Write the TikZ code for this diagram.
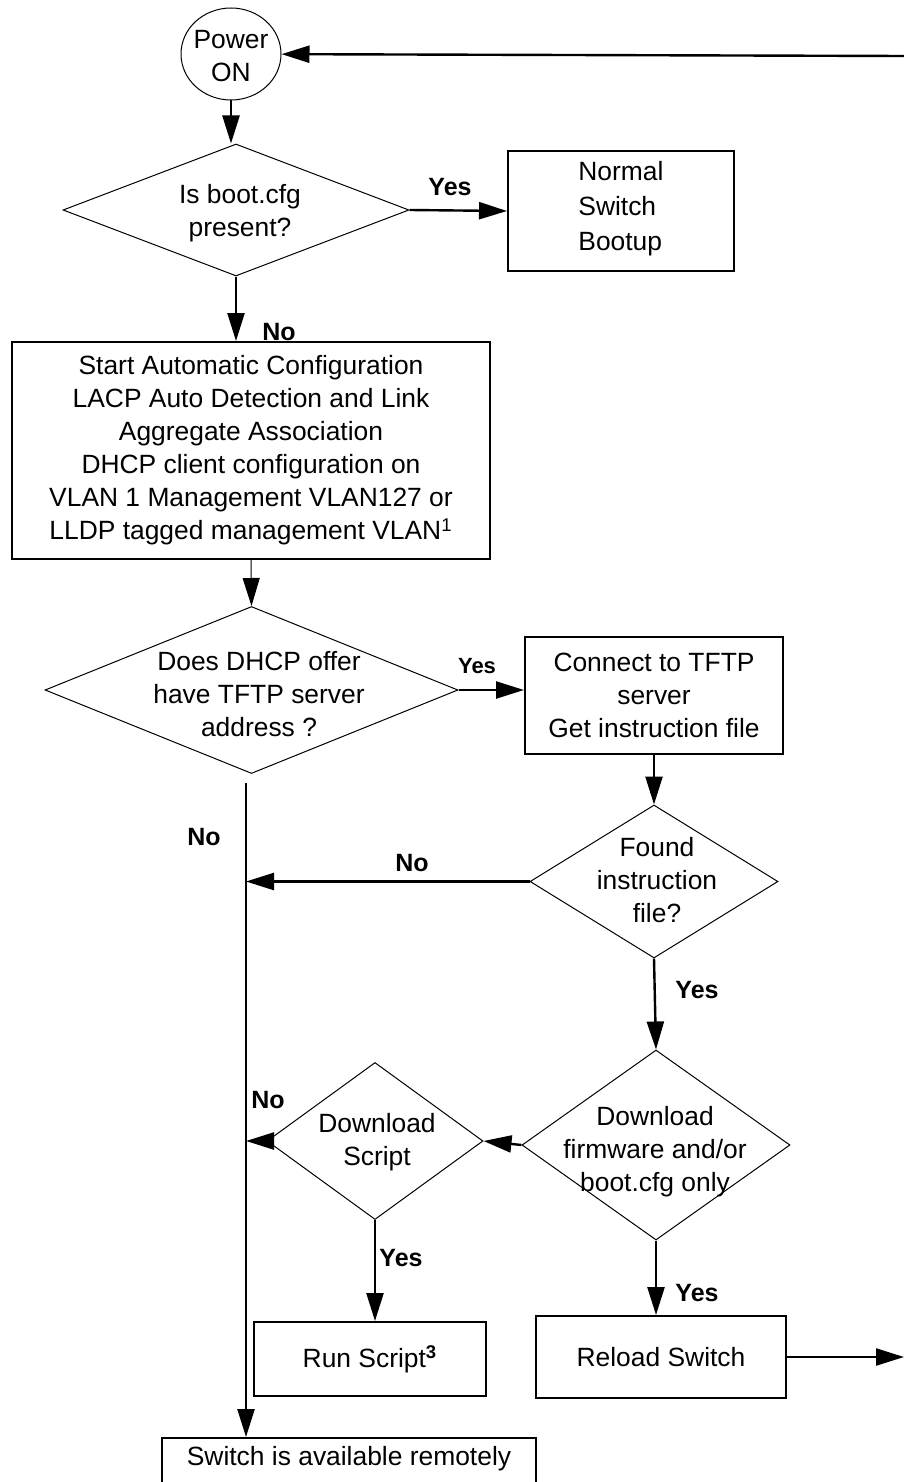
\documentclass[tikz,border=0pt]{standalone}
\usepackage{fontspec}
\setmainfont{Liberation Sans}
\usetikzlibrary{shapes.geometric,arrows.meta}

\tikzset{
  term/.style={draw, ellipse, line width=0.5pt, inner sep=0pt, minimum width=50pt, minimum height=46pt},
  dia/.style={draw, diamond, line width=0.5pt, inner sep=0pt},
  box/.style={draw, line width=1pt, inner sep=0pt, align=center},
  txt/.style={align=center, inner sep=0pt},
  lbl/.style={inner sep=0pt, font=\fontsize{12.5}{15}\selectfont\bfseries},
  conn/.style={line width=1.2pt, -{Triangle[length=14pt,width=8.5pt]}},
}

\begin{document}
\begin{tikzpicture}[x=0.5pt,y=0.5pt,yscale=-1,font=\fontsize{13.2}{16.5}\selectfont]
\clip (0,0) rectangle (904,1482);

% Start
\node[term] (power) at (231,54) {};
\node[txt] (powertxt) at (231,56) {Power\\ON};
% Decision
\node[dia, minimum width=173pt, minimum height=66pt] (boot) at (236,210) {};
\node[txt] (boottxt) at (240,213) {Is boot.cfg\\present?};
% Box
\node[box, minimum width=113pt, minimum height=60pt] (normal) at (621,211) {};
\node[txt, align=left, anchor=west, font=\fontsize{13.2}{17.5}\selectfont] (normaltxt) at (578,209) {Normal\\Switch\\Bootup};
% Box
\node[box, minimum width=239pt, minimum height=108.5pt] (autocfg) at (251,450.5)
  {Start Automatic Configuration\\LACP Auto Detection and Link\\Aggregate Association\\DHCP client configuration on\\VLAN 1 Management VLAN127 or\\LLDP tagged management VLAN\textsuperscript{1}};
% Decision
\node[dia, minimum width=206.5pt, minimum height=83.5pt] (dhcp) at (251.5,690) {};
\node[txt] (dhcptxt) at (259,694) {Does DHCP offer\\have TFTP server\\address ?};
% Box
\node[box, minimum width=129pt, minimum height=58.5pt] (tftp) at (654,695.5) {Connect to TFTP\\server\\Get instruction file};
% Decision
\node[dia, minimum width=124pt, minimum height=76.5pt] (found) at (654,881.5) {};
\node[txt] (foundtxt) at (657,880) {Found\\instruction\\file?};
% Decision
\node[dia, minimum width=134pt, minimum height=95pt] (fw) at (656,1145) {};
\node[txt] (fwtxt) at (655,1152) {Download\\firmware and/or\\boot.cfg only};
% Decision
\node[dia, minimum width=108pt, minimum height=78.5pt] (dlscript) at (375,1141) {};
\node[txt] (dlscripttxt) at (377,1142) {Download\\Script};
% Box
\node[box, minimum width=116pt, minimum height=37pt] (runscript) at (370,1359) {Run Script\textsuperscript{\bfseries 3}};
% Box
\node[box, minimum width=125pt, minimum height=41pt] (reload) at (661,1357) {Reload Switch};
% Box
\node[box, minimum width=187pt, minimum height=26pt] (avail) at (349,1464) {};
\node[txt] (availtxt) at (349,1459) {Switch is available remotely};

% Loose ends
\coordinate (loopin) at (904,56);
\coordinate (loopout) at (904,1357);
\coordinate (spine) at (246,783);

% Connections
\draw[conn] (loopin) -- (power);
\draw[conn] (power.south) -- (power.south |- boot.north);
\draw[conn] (boot.east) -- (normal.west);
\node[lbl] (yes1) at (450,187) {Yes};
\draw[conn] (boot.south) -- (boot.south |- autocfg.north);
\node[lbl] (no1) at (279,332) {No};
\draw[conn, line width=0.5pt] (autocfg.south) -- (dhcp.north);
\draw[conn] (dhcp.east) -- (dhcp.east -| tftp.west);
\node[lbl, font=\fontsize{11}{13}\selectfont\bfseries] (yes2) at (477,666) {Yes};
\draw[conn] (tftp.south) -- (found.north);
\draw[conn] (spine) -- (spine |- avail.north);
\node[lbl] (no2) at (204,837) {No};
\draw[conn] (found.west) -- (found.west -| spine);
\node[lbl] (no3) at (412,863) {No};
\draw[conn] (found.south) -- (fw.north);
\node[lbl] (yes3) at (697,990) {Yes};
\draw[conn] (fw.west) -- (dlscript.east);
\draw[conn] (dlscript.west) -- (dlscript.west -| spine);
\node[lbl] (no4) at (268,1100) {No};
\draw[conn] (dlscript.south) -- (dlscript.south |- runscript.north);
\node[lbl] (yes4) at (401,1258) {Yes};
\draw[conn] (fw.south) -- (fw.south |- reload.north);
\node[lbl] (yes5) at (697,1293) {Yes};
\draw[conn] (reload.east) -- (reload.east -| loopout);

\end{tikzpicture}
\end{document}
